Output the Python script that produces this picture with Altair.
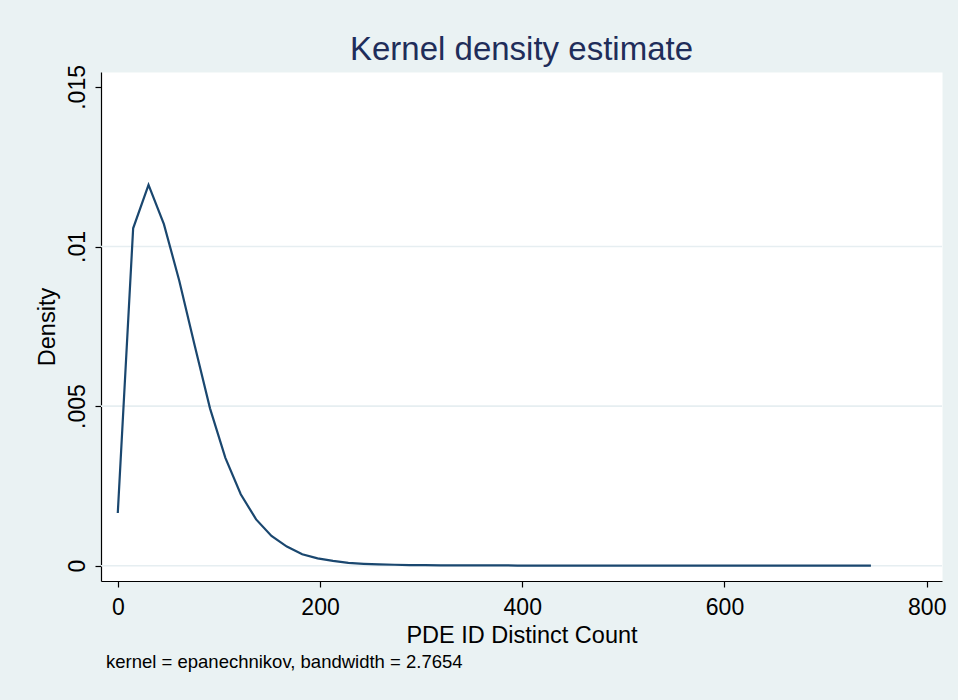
import altair as alt
import pandas as pd

# Kernel density estimate of PDE ID distinct counts (50 evaluation points)
grid_x = [0, 15.2, 30.4, 45.6, 60.8, 76, 91.2, 106.4, 121.6, 136.8,
          152, 167.2, 182.4, 197.6, 212.8, 228, 243.2, 258.4, 273.6, 288.8,
          304, 319.2, 334.4, 349.6, 364.8, 380, 395.2, 410.4, 425.6, 440.8,
          456, 471.2, 486.4, 501.6, 516.8, 532, 547.2, 562.4, 577.6, 592.8,
          608, 623.2, 638.4, 653.6, 668.8, 684, 699.2, 714.4, 729.6, 744.8]
density = [0.00165, 0.01057, 0.01193, 0.01070, 0.00893, 0.00691, 0.00493, 0.00338, 0.00224, 0.00145,
           0.00093, 0.00060, 0.00036, 0.00023, 0.00015, 0.00009, 0.00006, 0.00004, 0.00003, 0.00002,
           0.00002, 0.00001, 0.00001, 0.00001, 0.00001, 0.00001, 0.000005, 0.000005, 0.000005, 0.000005,
           0.000004, 0.000004, 0.000003, 0.000003, 0.000003, 0.000002, 0.000002, 0.000002, 0.000002, 0.000002,
           0.000001, 0.000001, 0.000001, 0.000001, 0.000001, 0.000001, 0.000001, 0.0, 0.0, 0.0]

x_ticks = [0, 200, 400, 600, 800]
y_ticks = [0, 0.005, 0.01, 0.015]
y_grid = [0, 0.005, 0.01]

title_text = "Kernel density estimate"
x_title = "PDE ID Distinct Count"
y_title = "Density"
note_text = "kernel = epanechnikov, bandwidth = 2.7654"

FONT = "Liberation Sans"
LINE = "#1A476F"
BG = "#EAF2F3"
W, H = 841, 509

curve = pd.DataFrame({"x": grid_x, "density": density})
gridlines = pd.DataFrame({"density": y_grid})
note = pd.DataFrame({"label": [note_text]})

xscale = alt.Scale(domain=[-16.6, 815.1], nice=False, zero=False)
yscale = alt.Scale(domain=[-0.000479, 0.015467], nice=False, zero=False)

xaxis = alt.Axis(
    values=x_ticks, format="d", grid=False,
    domainColor="#000000", domainWidth=1.2,
    tickColor="#000000", tickSize=6, tickWidth=1.2,
    labelFont=FONT, labelFontSize=23, labelColor="#000000",
    labelBaseline="alphabetic", labelPadding=27,
    titleFont=FONT, titleFontSize=23.5, titleFontWeight="normal", titleColor="#000000",
    titleBaseline="alphabetic", titleX=W / 2, titleY=61,
)
yaxis = alt.Axis(
    values=y_ticks, grid=False,
    labelExpr="datum.value == 0 ? '0' : replace(format(datum.value, '~g'), '0.', '.')",
    domainColor="#000000", domainWidth=1.2,
    tickColor="#000000", tickSize=6, tickWidth=1.2,
    labelFont=FONT, labelFontSize=23, labelColor="#000000",
    labelAngle=270, labelAlign="center", labelBaseline="alphabetic", labelPadding=11,
    titleFont=FONT, titleFontSize=23.5, titleFontWeight="normal", titleColor="#000000",
    titleAngle=270, titleAlign="center", titleBaseline="alphabetic",
    titleX=-46.5, titleY=H / 2,
)

y_enc = alt.Y("density:Q", scale=yscale, axis=yaxis, title=y_title)

grid_layer = alt.Chart(gridlines).mark_rule(color="#E6EEF1", strokeWidth=1.6).encode(
    y=y_enc,
    x=alt.value(0),
    x2=alt.value(W),
)

line_layer = alt.Chart(curve).mark_line(color=LINE, strokeWidth=2.2).encode(
    x=alt.X("x:Q", scale=xscale, axis=xaxis, title=x_title),
    y=y_enc,
)

note_layer = alt.Chart(note).mark_text(
    font=FONT, fontSize=18.5, color="#000000", align="left", baseline="alphabetic"
).encode(
    x=alt.value(5),
    y=alt.value(596),
    text="label:N",
)

chart = alt.layer(grid_layer, line_layer, note_layer).properties(
    width=W,
    height=H,
    autosize=alt.AutoSizeParams(type="none"),
    padding={"left": 101, "top": 72, "right": 16, "bottom": 119},
    background=BG,
    title=alt.TitleParams(
        text=title_text, font=FONT, fontSize=33, fontWeight="normal",
        color="#1F2D5A", anchor="middle", frame="group",
        baseline="alphabetic", offset=-28,
    ),
).configure_view(fill="white", stroke="transparent")

chart.save("out.html", embed_options={"renderer": "svg", "actions": False})
